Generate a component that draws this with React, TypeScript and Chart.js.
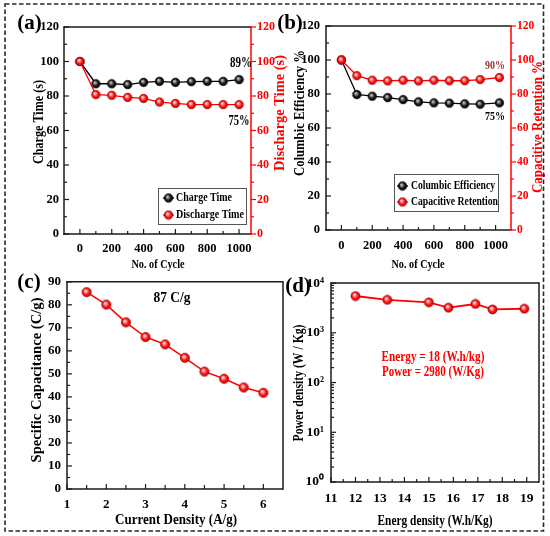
import React, { useEffect, useRef } from 'react';
import { Chart, registerables } from 'chart.js';

Chart.register(...registerables);

const SERIF = '"Liberation Serif", "Times New Roman", Times, serif';
const RED = '#ff0000';
const BLACK = '#000000';
const FRAME = '#1a1a1a';

// ---------- (a) charge / discharge time vs cycle ----------
const cyclesA = [0, 100, 200, 300, 400, 500, 600, 700, 800, 900, 1000];
const chargeTime = [100, 87.1, 87.1, 86.6, 87.9, 88.5, 87.9, 88.3, 88.5, 88.5, 89.5];
const dischargeTime = [100, 80.8, 80.4, 79.2, 78.6, 76.5, 75.7, 75.0, 75.0, 75.0, 75.0];

// ---------- (b) columbic efficiency / capacitive retention ----------
const cyclesB = [0, 100, 200, 300, 400, 500, 600, 700, 800, 900, 1025];
const columbicEfficiency = [100, 79.7, 78.7, 77.9, 76.7, 75.4, 74.8, 74.6, 74.2, 74.0, 74.8];
const capacitiveRetention = [100, 90.8, 88.1, 87.7, 88.1, 87.7, 88.1, 87.8, 87.8, 88.5, 89.7];

// ---------- (c) specific capacitance vs current density ----------
const currentDensity = [1.5, 2, 2.5, 3, 3.5, 4, 4.5, 5, 5.5, 6];
const specificCapacitance = [85.5, 80.1, 72.4, 66.0, 62.8, 57.0, 51.0, 47.9, 44.1, 41.8];

// ---------- (d) Ragone plot ----------
const energyDensity = [12.0, 13.3, 15.0, 15.8, 16.9, 17.6, 18.9];
const powerDensity = [5500, 4600, 4100, 3200, 3800, 2950, 3050];

// ---------- tick values ----------
const cycleTicks = [0, 200, 400, 600, 800, 1000];
const cycleMinor = [100, 300, 500, 700, 900];
const percentTicks = [0, 20, 40, 60, 80, 100, 120];
const percentMinor = [10, 30, 50, 70, 90, 110];
const currentTicks = [1, 2, 3, 4, 5, 6];
const currentMinor = [1.5, 2.5, 3.5, 4.5, 5.5];
const capTicks = [0, 10, 20, 30, 40, 50, 60, 70, 80, 90];
const capMinor = [5, 15, 25, 35, 45, 55, 65, 75, 85];
const energyTicks = [11, 12, 13, 14, 15, 16, 17, 18, 19];
const energyMinor = [11.5, 12.5, 13.5, 14.5, 15.5, 16.5, 17.5, 18.5];
const powerTicks = [1, 10, 100, 1000, 10000];
const powerTickLabels = ['10\u2070', '10\u00b9', '10\u00b2', '10\u00b3', '10\u2074'];
const powerMinor: number[] = [];
for (const dec of [1, 10, 100, 1000]) for (let k = 2; k <= 9; k++) powerMinor.push(dec * k);

type Side = 'left' | 'right' | 'bottom';
interface TickMarks { axis: string; side: Side; out?: boolean; major: number[]; minor: number[]; color: string; majLen?: number; minLen?: number; }
interface TextItem { text: string; x: number; y: number; size: number; len?: number; rot?: boolean; color?: string; align?: CanvasTextAlign; }
interface LegendItem { label: string; y: number; len: number; color: string; img: 'red' | 'black'; }
interface LegendSpec { box: [number, number, number, number]; lineX: [number, number]; textX: number; size: number; items: LegendItem[]; }
interface SeriesSpec { label: string; xs: number[]; ys: number[]; color: string; img: 'red' | 'black'; yAxisID: string; order: number; width: number; }
interface AxisSpec { id: string; type?: string; position: string; min: number; max: number; ticks: number[]; size: number; pad: number; font: number; color: string; fmt?: (v: number) => string; }
interface PanelSpec {
  ox: number; oy: number; w: number; h: number; padTop: number; padRight: number;
  axes: AxisSpec[]; series: SeriesSpec[]; marks: TickMarks[]; rightColor: string;
  texts: TextItem[]; legend?: LegendSpec; markerR: number;
}

const PANELS: PanelSpec[] = [
  {
    ox: 0, oy: 0, w: 290, h: 275, padTop: 27, padRight: 0, markerR: 4.2,
    axes: [
      { id: 'x', position: 'bottom', min: -100, max: 1075, ticks: cycleTicks, size: 41, pad: 7, font: 12.5, color: BLACK },
      { id: 'y', position: 'left', min: 0, max: 120, ticks: percentTicks, size: 64, pad: 5, font: 12.5, color: BLACK },
      { id: 'y1', position: 'right', min: 0, max: 120, ticks: percentTicks, size: 39, pad: 6, font: 12, color: RED },
    ],
    series: [
      { label: 'Charge Time', xs: cyclesA, ys: chargeTime, color: BLACK, img: 'black', yAxisID: 'y', order: 1, width: 1.3 },
      { label: 'Discharge Time', xs: cyclesA, ys: dischargeTime, color: RED, img: 'red', yAxisID: 'y1', order: 0, width: 1.3 },
    ],
    marks: [
      { axis: 'x', side: 'bottom', major: cycleTicks, minor: cycleMinor, color: FRAME },
      { axis: 'y', side: 'left', major: percentTicks, minor: percentMinor, color: FRAME },
      { axis: 'y1', side: 'right', out: true, major: percentTicks, minor: percentMinor, color: RED },
    ],
    rightColor: RED,
    texts: [
      { text: '(a)', x: 29.5, y: 24, size: 21 },
      { text: 'Charge Time (s)', x: 39, y: 122, size: 15, len: 84, rot: true },
      { text: 'Discharge Time (s)', x: 280, y: 113, size: 15, len: 116, rot: true, color: RED },
      { text: 'No. of Cycle', x: 158, y: 265, size: 13.5, len: 53 },
      { text: '89%', x: 241, y: 63, size: 14, len: 22 },
      { text: '75%', x: 239, y: 121, size: 14, len: 21 },
    ],
    legend: {
      box: [158, 188, 246, 224], lineX: [163, 174], textX: 176, size: 13.5,
      items: [
        { label: 'Charge Time', y: 198, len: 56, color: BLACK, img: 'black' },
        { label: 'Discharge Time', y: 215, len: 68, color: RED, img: 'red' },
      ],
    },
  },
  {
    ox: 270, oy: 0, w: 280, h: 275, padTop: 26, padRight: 0, markerR: 4.2,
    axes: [
      { id: 'x', position: 'bottom', min: -100, max: 1100, ticks: cycleTicks, size: 45, pad: 8, font: 12.5, color: BLACK },
      { id: 'y', position: 'left', min: 0, max: 120, ticks: percentTicks, size: 56, pad: 6, font: 12.5, color: BLACK },
      { id: 'y1', position: 'right', min: 0, max: 120, ticks: percentTicks, size: 39, pad: 6, font: 11.5, color: RED },
    ],
    series: [
      { label: 'Columbic Efficiency', xs: cyclesB, ys: columbicEfficiency, color: BLACK, img: 'black', yAxisID: 'y', order: 1, width: 1.3 },
      { label: 'Capacitive Retention', xs: cyclesB, ys: capacitiveRetention, color: RED, img: 'red', yAxisID: 'y1', order: 0, width: 1.3 },
    ],
    marks: [
      { axis: 'x', side: 'bottom', major: cycleTicks, minor: cycleMinor, color: FRAME },
      { axis: 'y', side: 'left', major: percentTicks, minor: percentMinor, color: FRAME },
      { axis: 'y1', side: 'right', out: true, major: percentTicks, minor: percentMinor, color: RED },
    ],
    rightColor: RED,
    texts: [
      { text: '(b)', x: 290, y: 24, size: 21 },
      { text: 'Columbic Efficiency %', x: 300, y: 113, size: 15, len: 126, rot: true },
      { text: 'Capacitive Retention %', x: 538, y: 127, size: 14, len: 132, rot: true, color: RED },
      { text: 'No. of Cycle', x: 418, y: 265, size: 13.5, len: 53 },
      { text: '90%', x: 495, y: 66, size: 13.5, len: 20, color: '#a53535' },
      { text: '75%', x: 495, y: 117, size: 13.5, len: 20 },
    ],
    legend: {
      box: [394, 174, 498, 211], lineX: [397, 408], textX: 411, size: 13,
      items: [
        { label: 'Columbic Efficiency', y: 186, len: 84, color: BLACK, img: 'black' },
        { label: 'Capacitive Retention', y: 202, len: 87, color: RED, img: 'red' },
      ],
    },
  },
  {
    ox: 0, oy: 268, w: 290, h: 268, padTop: 10, padRight: 7, markerR: 4.6,
    axes: [
      { id: 'x', position: 'bottom', min: 1, max: 6.5, ticks: currentTicks, size: 47, pad: 8, font: 13, color: BLACK },
      { id: 'y', position: 'left', min: 0, max: 90, ticks: capTicks, size: 67, pad: 6, font: 13, color: BLACK },
    ],
    series: [
      { label: 'Specific Capacitance', xs: currentDensity, ys: specificCapacitance, color: RED, img: 'red', yAxisID: 'y', order: 0, width: 1.5 },
    ],
    marks: [
      { axis: 'x', side: 'bottom', major: currentTicks, minor: currentMinor, color: FRAME, minLen: 4 },
      { axis: 'y', side: 'left', major: capTicks, minor: capMinor, color: FRAME },
    ],
    rightColor: FRAME,
    texts: [
      { text: '(c)', x: 29, y: 283, size: 21 },
      { text: 'Specific Capacitance (C/g)', x: 37, y: 380, size: 15, len: 165, rot: true },
      { text: 'Current Density (A/g)', x: 176, y: 520, size: 15, len: 122 },
      { text: '87 C/g', x: 172, y: 298, size: 14.5, len: 37 },
    ],
  },
  {
    ox: 275, oy: 268, w: 275, h: 268, padTop: 13, padRight: 11, markerR: 4.5,
    axes: [
      { id: 'x', position: 'bottom', min: 11, max: 19.5, ticks: energyTicks, size: 54, pad: 8, font: 13.5, color: BLACK },
      { id: 'y', type: 'logarithmic', position: 'left', min: 1, max: 10000, ticks: powerTicks, size: 56, pad: 7, font: 13.5, color: BLACK,
        fmt: (v: number) => powerTickLabels[powerTicks.indexOf(v)] ?? '' },
    ],
    series: [
      { label: 'Power density', xs: energyDensity, ys: powerDensity, color: RED, img: 'red', yAxisID: 'y', order: 0, width: 1.8 },
    ],
    marks: [
      { axis: 'x', side: 'bottom', major: energyTicks, minor: energyMinor, color: FRAME },
      { axis: 'y', side: 'left', major: powerTicks, minor: powerMinor, color: FRAME },
    ],
    rightColor: FRAME,
    texts: [
      { text: '(d)', x: 298, y: 287, size: 21 },
      { text: 'Power density (W / Kg)', x: 299, y: 383, size: 14.5, len: 117, rot: true },
      { text: 'Energ density (W.h/Kg)', x: 435, y: 521, size: 15, len: 115 },
      { text: 'Energy = 18 (W.h/kg)', x: 433, y: 357, size: 14.5, len: 103, color: RED },
      { text: 'Power = 2980 (W/Kg)', x: 433, y: 372, size: 14.5, len: 102, color: RED },
    ],
  },
];

function sphere(kind: 'red' | 'black', r: number): HTMLCanvasElement {
  const s = Math.ceil(r * 2 + 2);
  const c = document.createElement('canvas');
  c.width = s;
  c.height = s;
  const g = c.getContext('2d')!;
  const cx = s / 2;
  const grad = g.createRadialGradient(cx - r * 0.3, cx - r * 0.35, 0, cx, cx, r);
  if (kind === 'red') {
    grad.addColorStop(0, '#ffffff');
    grad.addColorStop(0.3, '#ff9c9c');
    grad.addColorStop(0.62, '#ff1a1a');
    grad.addColorStop(1, '#c80000');
  } else {
    grad.addColorStop(0, '#f2f2f2');
    grad.addColorStop(0.3, '#8a8a8a');
    grad.addColorStop(0.65, '#1a1a1a');
    grad.addColorStop(1, '#000000');
  }
  g.beginPath();
  g.arc(cx, cx, r, 0, Math.PI * 2);
  g.fillStyle = grad;
  g.fill();
  g.lineWidth = 0.8;
  g.strokeStyle = kind === 'red' ? '#b00000' : '#000000';
  g.stroke();
  return c;
}

function drawText(ctx: CanvasRenderingContext2D, t: TextItem) {
  ctx.save();
  ctx.font = `bold ${t.size}px ${SERIF}`;
  ctx.fillStyle = t.color || BLACK;
  ctx.textBaseline = 'middle';
  ctx.textAlign = t.align || 'center';
  ctx.translate(t.x, t.y);
  if (t.rot) ctx.rotate(-Math.PI / 2);
  const w = ctx.measureText(t.text).width;
  const sx = t.len ? t.len / w : 1;
  ctx.scale(sx, 1);
  ctx.fillText(t.text, 0, 0);
  ctx.restore();
}

function makeConfig(spec: PanelSpec, imgs: Record<string, HTMLCanvasElement>): any {
  const scales: any = {};
  for (const ax of spec.axes) {
    const horiz = ax.position === 'bottom';
    scales[ax.id] = {
      type: ax.type || 'linear',
      position: ax.position,
      min: ax.min,
      max: ax.max,
      grid: { display: false, drawTicks: false },
      border: { display: false },
      title: { display: false },
      ticks: {
        padding: ax.pad,
        color: ax.color,
        autoSkip: false,
        maxRotation: 0,
        minRotation: 0,
        font: { family: SERIF, weight: 'bold', size: ax.font },
        callback: (v: any) => (ax.fmt ? ax.fmt(Number(v)) : String(v)),
      },
      afterBuildTicks: (s: any) => {
        s.ticks = ax.ticks.map((v) => ({ value: v }));
      },
      afterFit: (s: any) => {
        if (horiz) s.height = ax.size;
        else s.width = ax.size;
      },
    };
  }

  const datasets = spec.series.map((se) => ({
    label: se.label,
    data: se.xs.map((x, i) => ({ x, y: se.ys[i] })),
    borderColor: se.color,
    backgroundColor: se.color,
    borderWidth: se.width,
    pointStyle: imgs[se.img],
    pointRadius: spec.markerR,
    pointHoverRadius: spec.markerR,
    tension: 0,
    fill: false,
    yAxisID: se.yAxisID,
    xAxisID: 'x',
    order: se.order,
  }));

  const overlay = {
    id: 'overlay' + spec.ox + '_' + spec.oy,
    afterDraw(chart: any) {
      const ctx: CanvasRenderingContext2D = chart.ctx;
      const a = chart.chartArea;
      ctx.save();
      const seg = (x1: number, y1: number, x2: number, y2: number, c: string) => {
        ctx.strokeStyle = c;
        ctx.beginPath();
        ctx.moveTo(x1, y1);
        ctx.lineTo(x2, y2);
        ctx.stroke();
      };
      ctx.lineWidth = 1.5;
      seg(a.left - 0.75, a.top, a.right, a.top, FRAME);
      seg(a.left, a.top, a.left, a.bottom + 0.75, FRAME);
      seg(a.left - 0.75, a.bottom, a.right, a.bottom, FRAME);
      seg(a.right, a.top - 0.75, a.right, a.bottom + 0.75, spec.rightColor);

      ctx.lineWidth = 1.2;
      for (const m of spec.marks) {
        const sc = chart.scales[m.axis];
        const draw = (v: number, len: number) => {
          const p = sc.getPixelForValue(v);
          if (m.side === 'bottom') seg(p, a.bottom, p, a.bottom + (m.out ? len : -len), m.color);
          else if (m.side === 'left') seg(a.left, p, a.left + (m.out ? -len : len), p, m.color);
          else seg(a.right, p, a.right + (m.out ? len : -len), p, m.color);
        };
        m.major.forEach((v) => draw(v, m.majLen ?? 5));
        m.minor.forEach((v) => draw(v, m.minLen ?? 3));
      }

      ctx.translate(-spec.ox, -spec.oy);
      const L = spec.legend;
      if (L) {
        const [x1, y1, x2, y2] = L.box;
        ctx.fillStyle = '#ffffff';
        ctx.fillRect(x1, y1, x2 - x1, y2 - y1);
        ctx.lineWidth = 1;
        ctx.strokeStyle = '#555555';
        ctx.strokeRect(x1 + 0.5, y1 + 0.5, x2 - x1, y2 - y1);
        for (const it of L.items) {
          ctx.lineWidth = 1.3;
          seg(L.lineX[0], it.y, L.lineX[1], it.y, it.color);
          const im = imgs[it.img];
          const mx = (L.lineX[0] + L.lineX[1]) / 2;
          ctx.drawImage(im, mx - im.width / 2, it.y - im.height / 2);
          drawText(ctx, { text: it.label, x: L.textX, y: it.y, size: L.size, len: it.len, align: 'left' });
        }
      }
      for (const t of spec.texts) drawText(ctx, t);
      ctx.restore();
    },
  };

  return {
    type: 'line',
    data: { datasets },
    options: {
      responsive: false,
      maintainAspectRatio: false,
      animation: false,
      events: [],
      layout: { padding: { top: spec.padTop, right: spec.padRight, left: 0, bottom: 0 } },
      plugins: { legend: { display: false }, tooltip: { enabled: false }, title: { display: false } },
      scales,
    },
    plugins: [overlay],
  };
}

function PanelCanvas({ spec }: { spec: PanelSpec }) {
  const ref = useRef<HTMLCanvasElement | null>(null);
  useEffect(() => {
    if (!ref.current) return;
    const imgs = { red: sphere('red', spec.markerR), black: sphere('black', spec.markerR) };
    const chart = new Chart(ref.current, makeConfig(spec, imgs));
    return () => chart.destroy();
  }, [spec]);
  return (
    <canvas
      ref={ref}
      width={spec.w}
      height={spec.h}
      style={{ position: 'absolute', left: spec.ox, top: spec.oy, width: spec.w, height: spec.h }}
    />
  );
}

export default function App() {
  return (
    <div style={{ position: 'absolute', left: 0, top: 0, width: 550, height: 536, background: '#ffffff', overflow: 'hidden' }}>
      {PANELS.map((p, i) => (
        <PanelCanvas key={i} spec={p} />
      ))}
      <svg width={550} height={536} style={{ position: 'absolute', left: 0, top: 0, pointerEvents: 'none' }}>
        <rect x={5} y={4} width={538.5} height={527} fill="none" stroke="#2a2a2a" strokeWidth={1.6} strokeDasharray="4.5 2.5" />
      </svg>
    </div>
  );
}
